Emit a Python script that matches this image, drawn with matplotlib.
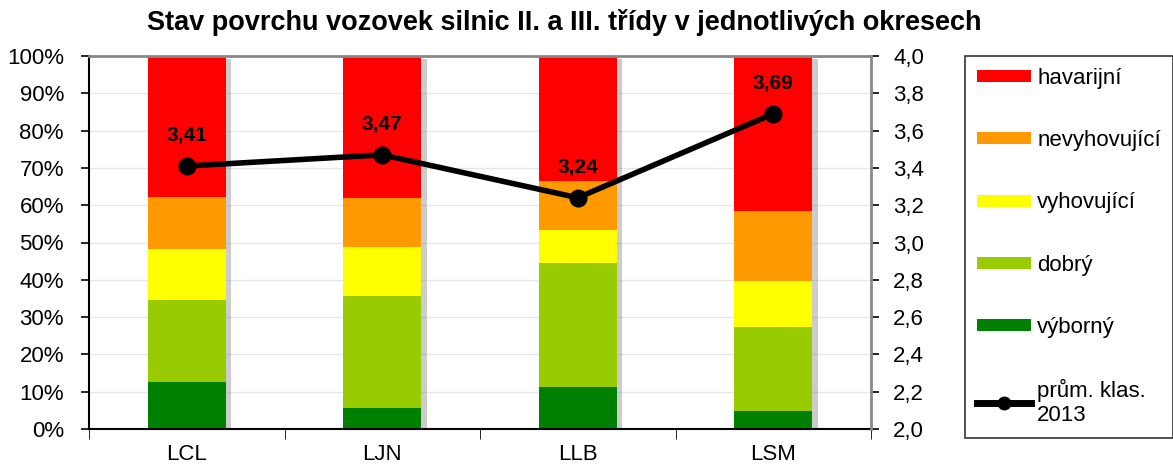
import matplotlib.pyplot as plt
import matplotlib.patheffects as pe
from matplotlib.patches import Patch
from matplotlib.lines import Line2D
import numpy as np

plt.rcParams['font.family'] = ['Liberation Sans', 'DejaVu Sans']

districts = ['LCL', 'LJN', 'LLB', 'LSM']
categories = ['výborný', 'dobrý', 'vyhovující', 'nevyhovující', 'havarijní']
colors = ['#008000', '#99cc00', '#ffff00', '#ff9900', '#ff0000']

# shares in % per category (bottom -> top)
vyborny = [12.5, 5.7, 11.3, 4.9]
dobry = [22.1, 30.0, 33.1, 22.4]
vyhovujici = [13.7, 13.0, 9.0, 12.5]
nevyhovujici = [14.0, 13.3, 13.0, 18.6]
havarijni = [37.7, 38.0, 33.6, 41.6]

# average classification 2013
prum_klas = [3.41, 3.47, 3.24, 3.69]

series = [vyborny, dobry, vyhovujici, nevyhovujici, havarijni]

fig = plt.figure(figsize=(11.73, 4.66), dpi=100)
ax = fig.add_axes([89 / 1173, 37 / 466, 782 / 1173, 373 / 466])
x = np.arange(len(districts))

# one shadow per stacked column
totals = np.sum(series, axis=0)
shadow = [pe.withSimplePatchShadow(offset=(4, -2), shadow_rgbFace='#808080', alpha=0.4)]
ax.bar(x, totals, width=0.4, color='white', zorder=1.5, path_effects=shadow)

bottom = np.zeros(len(districts))
for vals, col, name in zip(series, colors, categories):
    ax.bar(x, vals, width=0.4, bottom=bottom, color=col, label=name, zorder=2)
    bottom += np.array(vals)

ax.set_xlim(-0.5, 3.5)
ax.set_ylim(0, 100)
ax.set_yticks(np.arange(0, 101, 10))
ax.set_yticklabels([f'{v}%' for v in range(0, 101, 10)], fontsize=16)
ax.yaxis.grid(True, color='#e6e6e6', linewidth=1, zorder=0)
ax.set_axisbelow(True)
ax.set_xticks(x)
ax.set_xticklabels(districts, fontsize=16)
ax.tick_params(axis='x', which='major', length=0, pad=11)
ax.set_xticks([-0.5, 0.5, 1.5, 2.5, 3.5], minor=True)
ax.tick_params(axis='x', which='minor', length=7, direction='out')
ax.tick_params(axis='y', length=6, width=1.2, direction='out', pad=12)
ax.spines['left'].set_linewidth(1.5)
ax.spines['bottom'].set_linewidth(1.5)
ax.spines['top'].set_color('#888888')
ax.spines['top'].set_linewidth(2)
ax.spines['right'].set_visible(False)

ax2 = ax.twinx()
ax2.plot(x, prum_klas, color='black', linewidth=4, marker='o', markersize=12, zorder=5)
for xi, v in zip(x, prum_klas):
    ax2.annotate(f'{v:.2f}'.replace('.', ','), (xi, v), xytext=(0, 15), textcoords='offset points',
                 ha='center', va='bottom', fontsize=15, fontweight='bold')
ax2.set_ylim(2.0, 4.0)
ax2.set_yticks(np.arange(2.0, 4.01, 0.2))
ax2.set_yticklabels([f'{v:.1f}'.replace('.', ',') for v in np.arange(2.0, 4.01, 0.2)], fontsize=16)
ax2.tick_params(axis='y', length=6, width=1.2, direction='out', pad=10)
ax2.spines['right'].set_color('#888888')
ax2.spines['right'].set_linewidth(2)
ax2.spines['top'].set_visible(False)
ax2.spines['left'].set_visible(False)
ax2.spines['bottom'].set_visible(False)

handles = [Patch(facecolor=c, edgecolor='none') for c in colors[::-1]]
handles.append(Line2D([0], [0], color='black', linewidth=5, marker='o', markersize=9))
labels = categories[::-1] + ['prům. klas.\n2013']
leg = fig.legend(handles, labels, loc='upper left', bbox_to_anchor=(965 / 1173, 1 - 56 / 466),
                 fontsize=16, frameon=True, fancybox=False, edgecolor='black',
                 labelspacing=1.85, handlelength=2.4, handleheight=0.45, handletextpad=0.3,
                 borderpad=0.55, borderaxespad=0)
leg.get_frame().set_linewidth(1.2)

fig.text(0.481, 1 - 22 / 466, 'Stav povrchu vozovek silnic II. a III. třídy v jednotlivých okresech',
         ha='center', va='center', fontsize=19.5, fontweight='bold')

fig.savefig('out.png', dpi=100)
